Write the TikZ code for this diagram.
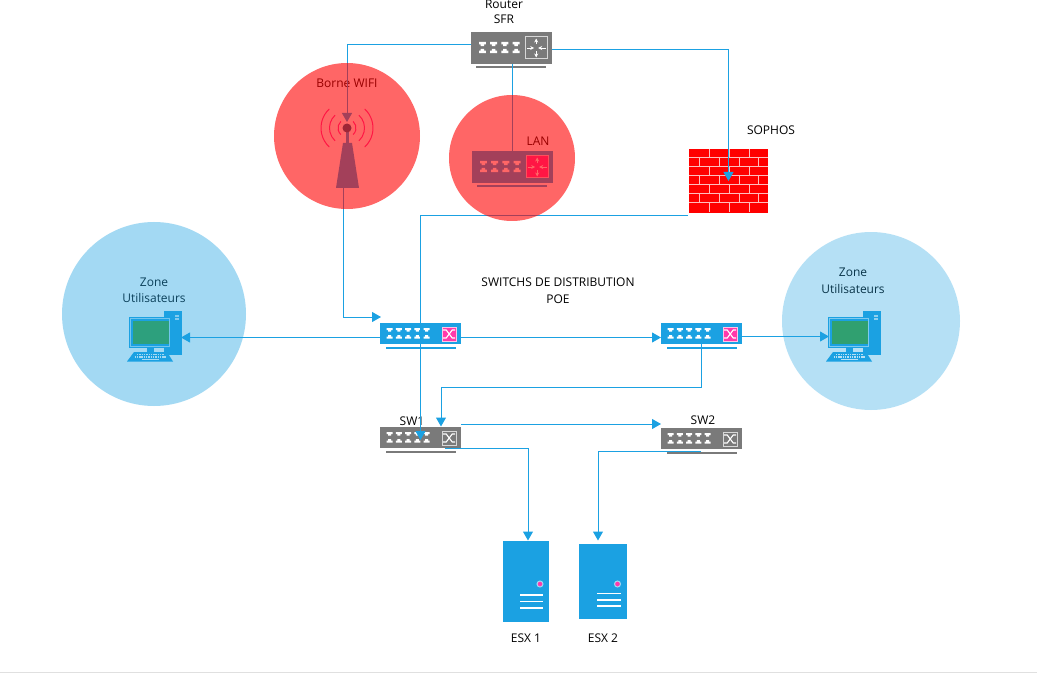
\documentclass[tikz,border=0pt]{standalone}
\usepackage{fontspec}
\setmainfont{Open Sans}
\usetikzlibrary{arrows.meta}
\definecolor{flow}{HTML}{1BA1E2}
\definecolor{devgray}{HTML}{7A7A7A}
\definecolor{hotpink}{HTML}{FF39AA}
\definecolor{wall}{HTML}{FF0000}
\definecolor{mortar}{HTML}{FFBDBD}
\definecolor{netgreen}{HTML}{3AA03A}
\tikzset{
  x=1pt,y=-1pt,
  link/.style={draw=flow,line width=1pt,-{Triangle[length=9pt,width=10pt]}},
  plainlink/.style={draw=flow,line width=1pt},
  label/.style={font=\fontsize{12}{14}\selectfont,inner sep=0pt,text=black},
  body/.style={draw=none,inner sep=0pt,minimum width=81pt,outer sep=0pt},
  redzone/.style={fill=red,fill opacity=.6,draw=none},
  bluezone/.style={fill=flow,fill opacity=.4,draw=none},
  bluezonepale/.style={fill=flow,fill opacity=.32,draw=none},
}
\newcommand{\portrows}[6]{% x0,y0,count,dx,dy,scale
  \foreach \i in {1,...,#3}{
    \fill[white,shift={({#1+(\i-1)*#4},{#2})},scale=#6]
      (0,0)--(6,0)--(6,2)--(4.5,2)--(4.5,3.5)--(1.5,3.5)--(1.5,2)--(0,2)--cycle;
    \fill[white,shift={({#1+(\i-1)*#4},{#2+#5})},scale=#6]
      (1.5,0)--(4.5,0)--(4.5,1.5)--(6,1.5)--(6,3.5)--(0,3.5)--(0,1.5)--(1.5,1.5)--cycle;
  }
}
\newcommand{\switchdev}[6]{%
  \node[body,anchor=north west,fill=#4,minimum height=21pt] (#1) at (#2,#3) {};
  \fill[#4] ({#2+6},{#3+24}) rectangle ({#2+76},{#3+26});
  \portrows{#2+6.5}{#3+5}{5}{9.3}{7}{1}
  \filldraw[fill=#5,draw=#6,line width=1pt] ({#2+62},{#3+4}) rectangle ({#2+76.5},{#3+18});
  \begin{scope}[shift={(#2+69.2,#3+11)},draw=white,line width=1.1pt]
    \draw (-6,-4)--(-3,-4)--(3,4)--(6,4);
    \draw (-6,4)--(-3,4)--(3,-4)--(6,-4);
  \end{scope}
}
\newcommand{\routerparts}[5]{% x,y,body,square,squareborder
  \fill[#3] ({#1+5},{#2+34}) rectangle ({#1+75},{#2+36});
  \portrows{#1+8}{#2+10}{4}{11.2}{7}{1.15}
  \filldraw[fill=#4,draw=#5,line width=1pt] ({#1+54.5},{#2+5}) rectangle ({#1+76},{#2+27});
  \begin{scope}[shift={(#1+65.2,#2+16)},draw=white,line width=.8pt,-{Stealth[length=4pt,width=4pt]}]
    \draw (0,-3.5)--(0,-9.5);
    \draw (0,3.5)--(0,9.5);
    \draw (-9.5,0)--(-2,0);
    \draw (9.5,0)--(2,0);
  \end{scope}
}
\newcommand{\pcicon}[1]{%
  \begin{scope}[shift={(#1,0)}]
    \fill[flow] (164,311) rectangle (182,355);
    \fill[white!75!flow] (175,315) rectangle (179,316.5);
    \fill[white!75!flow] (175,318) rectangle (179,319.5);
    \fill[flow] (129,317) rectangle (171,348);
    \draw[white!65!flow,line width=.8pt] (130.5,318.5) rectangle (169.5,346.5);
    \fill[netgreen] (133,321) rectangle (169,344);
    \fill[flow] (147,348) rectangle (154,352);
    \fill[flow] (134,352)--(167,352)--(173,361.5)--(127,361.5)--cycle;
    \foreach \r/\a/\b in {354.5/137/164,357/134.5/166.5}{
      \draw[white,line width=1.2pt,dash pattern=on 1.4pt off .9pt] (\a,\r)--(\b,\r);
    }
    \draw[white,line width=1pt] (142,359.7)--(159,359.7);
  \end{scope}
}
\begin{document}
\begin{tikzpicture}
\useasboundingbox (0,0) rectangle (1037,674);
\fill[white] (0,0) rectangle (1037,674);
\draw[black!12,line width=1pt] (0,672.5)--(1037,672.5);

% labels (sitting below the coloured zones)
\node[label] (trouter) at (504,4) {Router};
\node[label] (tsfr) at (504,19) {SFR};
\node[label] (twifi) at (347,83) {Borne WIFI};
\node[label] (tlan) at (538,141) {LAN};
\node[label] (tsophos) at (771,130) {SOPHOS};
\node[label] (tzl1) at (154,282) {Zone};
\node[label] (tzl2) at (154,298) {Utilisateurs};
\node[label] (tzr1) at (853,272) {Zone};
\node[label] (tzr2) at (853,289) {Utilisateurs};
\node[label] (tdist1) at (558,282) {SWITCHS DE DISTRIBUTION};
\node[label] (tdist2) at (558,299) {POE};
\node[label] (tsw1) at (412,421) {SW1};
\node[label] (tsw2) at (703,420) {SW2};
\node[label] (tesx1) at (526,638) {ESX 1};
\node[label] (tesx2) at (603,638) {ESX 2};

% routers
\node[body,anchor=north west,fill=devgray,minimum height=32pt] (router) at (471,32) {};
\routerparts{471}{32}{devgray}{devgray}{white!70!devgray}
\node[body,anchor=north west,fill=flow,minimum height=32pt] (lan) at (472,151) {};
\routerparts{472}{151}{flow}{hotpink}{white!70!hotpink}

% wifi antenna
\node[draw=none,inner sep=0pt,minimum width=23pt,minimum height=60pt] (wifi) at (347.5,158) {};
\fill[flow] (343,143)--(352,143)--(359,188)--(336,188)--cycle;
\fill[flow] (345.7,128) rectangle (349,143);
\fill[flow!60!black] (347,128) circle (4.5pt);
\foreach \rr in {9,17.5,26}{
  \draw[hotpink,line width=1pt] (347,128) ++(47:\rr pt) arc[start angle=47,end angle=-47,radius=\rr pt];
  \draw[hotpink,line width=1pt] (347,128) ++(133:\rr pt) arc[start angle=133,end angle=227,radius=\rr pt];
}

% firewall
\node[draw=none,fill=wall,inner sep=0pt,anchor=north west,minimum width=79pt,minimum height=63.5pt] (fw) at (689,149) {};
\foreach \yy in {158,167,176,185,194,203}{\draw[mortar,line width=1pt] (689,\yy)--(768,\yy);}
\foreach \yy in {149,167,185,203}{
  \foreach \xx in {709,729,749}{\draw[mortar,line width=1pt] (\xx,\yy)--(\xx,{\yy+9});}
}
\foreach \yy in {158,176,194}{
  \foreach \xx in {699,719,739,758.5}{\draw[mortar,line width=1pt] (\xx,\yy)--(\xx,{\yy+9});}
}

% computers
\node[draw=none,inner sep=0pt,minimum width=53pt,minimum height=50pt] (pcl) at (155,336) {};
\pcicon{0}
\node[draw=none,inner sep=0pt,minimum width=53pt,minimum height=50pt] (pcr) at (855.5,336) {};
\pcicon{699}

% switches
\switchdev{dist1}{380}{323}{flow}{hotpink}{white!70!hotpink}
\switchdev{dist2}{661}{323}{flow}{hotpink}{white!70!hotpink}
\switchdev{sw1}{380}{427}{devgray}{devgray}{white!70!devgray}
\switchdev{sw2}{661}{428}{devgray}{devgray}{white!70!devgray}

% servers
\node[draw=none,fill=flow,inner sep=0pt,anchor=north west,minimum width=46pt,minimum height=81pt] (esx1) at (503,541) {};
\filldraw[fill=hotpink,draw=white!60!flow,line width=1pt] (540,584) circle (3pt);
\foreach \yy in {595,601.5,608}{\draw[white,line width=1.3pt] (520,\yy)--(543,\yy);}
\node[draw=none,fill=flow,inner sep=0pt,anchor=north west,minimum width=48pt,minimum height=75pt] (esx2) at (579,544) {};
\filldraw[fill=hotpink,draw=white!60!flow,line width=1pt] (617.5,584) circle (3pt);
\foreach \yy in {593.5,600,606}{\draw[white,line width=1.3pt] (597,\yy)--(621,\yy);}

% connector end points on the devices
\coordinate (routerL) at (471,45);
\coordinate (routerR) at (552,50);
\coordinate (routerB) at (512.5,64);
\coordinate (lanT) at (512.5,151);
\coordinate (wifiT) at (347,122);
\coordinate (wifiB) at (343.5,188);
\coordinate (fwIn) at (728.5,181);
\coordinate (fwOut) at (688,215.5);
\coordinate (dist1In) at (381,317);
\coordinate (dist1L) at (380,337.5);
\coordinate (dist1R) at (461,337.5);
\coordinate (dist2L) at (661,337.5);
\coordinate (dist2R) at (742,336.5);
\coordinate (dist2B) at (701.5,344);
\coordinate (pcrL) at (829,336.5);
\coordinate (pclR) at (181,337.5);
\coordinate (sw1Up) at (420.5,440);
\coordinate (sw1In) at (441,426.5);
\coordinate (sw1R) at (461,424);
\coordinate (sw2L) at (661,424);
\coordinate (sw1B) at (445,448.5);
\coordinate (sw2B) at (701,451.5);
\coordinate (esx1T) at (528,540.5);
\coordinate (esx2T) at (598,540.5);

% connectors
\draw[link] (routerL) -| (wifiT);
\draw[link] (routerR) -| (fwIn);
\draw[plainlink] (routerB) -- (lanT);
\draw[link] (wifiB) |- (dist1In);
\draw[link] (fwOut) -| (sw1Up);
\draw[link] (dist1L) -- (pclR);
\draw[link] (dist1R) -- (dist2L);
\draw[link] (dist2R) -- (pcrL);
\draw[link] (dist2B) |- (441,387.5) -- (sw1In);
\draw[link] (sw1R) -- (sw2L);
\draw[link] (sw1B) -| (esx1T);
\draw[link] (sw2B) -| (esx2T);

% coloured zones, laid over everything they cover
\fill[redzone] (347,136) circle (73pt);
\fill[redzone] (512,158) circle (63pt);
\fill[bluezone] (154,314) circle (92pt);
\fill[bluezonepale] (871,321) circle (89pt);
\end{tikzpicture}
\end{document}
